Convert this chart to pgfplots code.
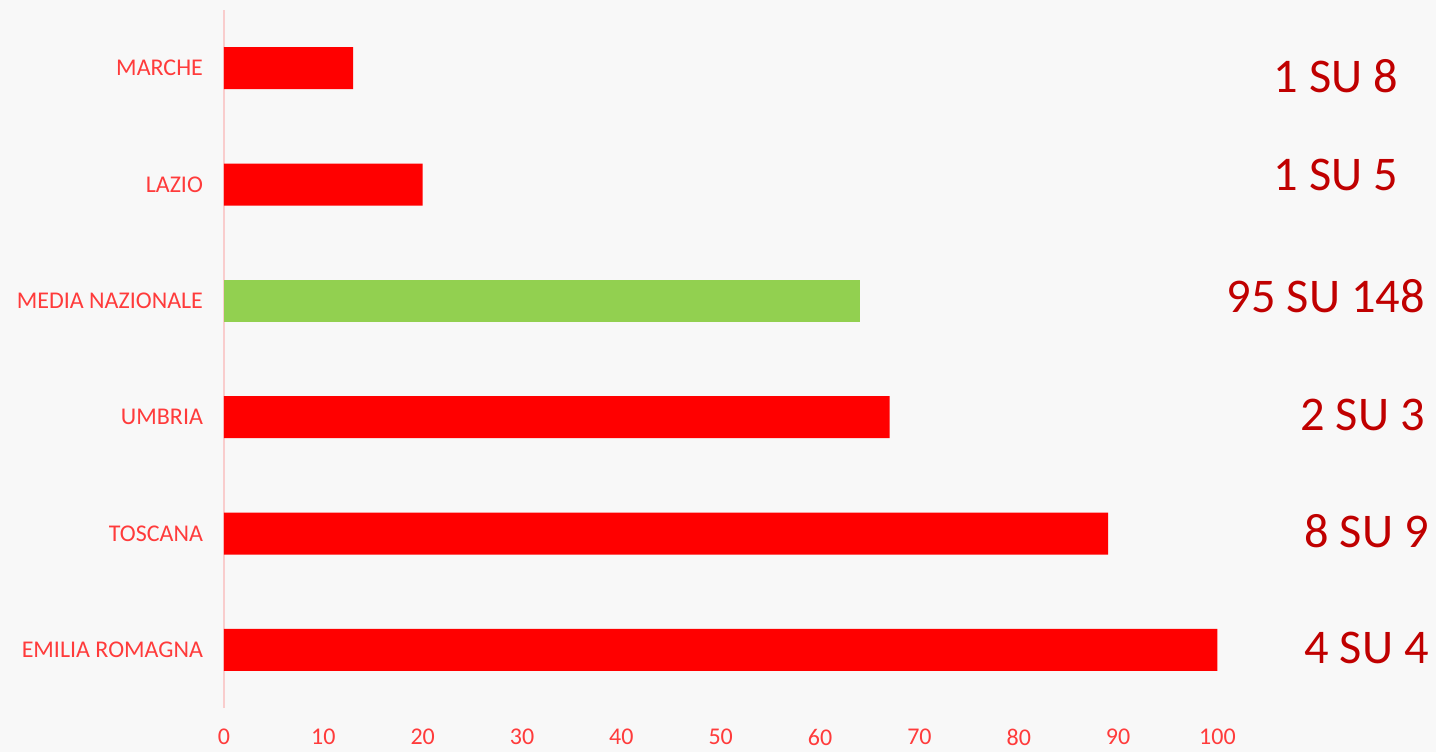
\documentclass[border=0pt]{standalone}
\usepackage{pgfplots}
\pgfplotsset{compat=1.18}
\usepackage{fontspec}
\setmainfont{Carlito}
\definecolor{bg}{HTML}{F8F8F8}
\definecolor{barred}{HTML}{FF0000}
\definecolor{bargreen}{HTML}{92D050}
\definecolor{lblred}{HTML}{FF3B3B}
\definecolor{darkred}{HTML}{C00000}
\definecolor{pinkline}{HTML}{F9CDCD}

\begin{document}
\begin{tikzpicture}
\fill[bg] (0,0) rectangle (718pt,376pt);
\useasboundingbox (0,0) rectangle (718pt,376pt);
\begin{axis}[
    at={(112pt,22pt)}, anchor=south west,
    scale only axis,
    width=606pt, height=349pt,
    xbar, bar width=21pt, bar shift=0pt,
    xmin=0, xmax=122,
    ymin=-0.5, ymax=5.5,
    axis x line=bottom, axis y line=left,
    x axis line style={draw=none},
    y axis line style={draw=pinkline, line width=0.8pt, -},
    major tick length=0pt,
    xtick={0,10,...,100},
    ytick={0,...,5},
    yticklabels={EMILIA ROMAGNA, TOSCANA\ , UMBRIA, MEDIA NAZIONALE, LAZIO, MARCHE},
    tick label style={font=\fontsize{12pt}{14pt}\selectfont, text=lblred},
    /pgf/number format/assume math mode=true,
    xticklabel style={yshift=-7pt},
    yticklabel style={xshift=-7pt},
    clip=false,
]
\addplot[fill=barred, draw=none] coordinates {(100,0) (89,1) (67,2) (20,4) (13,5)};
\addplot[fill=bargreen, draw=none] coordinates {(64,3)};
\begin{scope}[every node/.style={font=\fontsize{24.2pt}{29pt}\selectfont, text=darkred}]
\node at (axis cs:111.9,4.93) {1 SU 8};
\node at (axis cs:111.9,4.08) {1 SU 5};
\node at (axis cs:110.9,3.04) {95 SU 148};
\node at (axis cs:114.6,2.02) {2 SU 3};
\node at (axis cs:115.0,1.02) {8 SU 9};
\node at (axis cs:115.0,0.02) {4 SU 4};
\end{scope}
\end{axis}
\end{tikzpicture}
\end{document}
